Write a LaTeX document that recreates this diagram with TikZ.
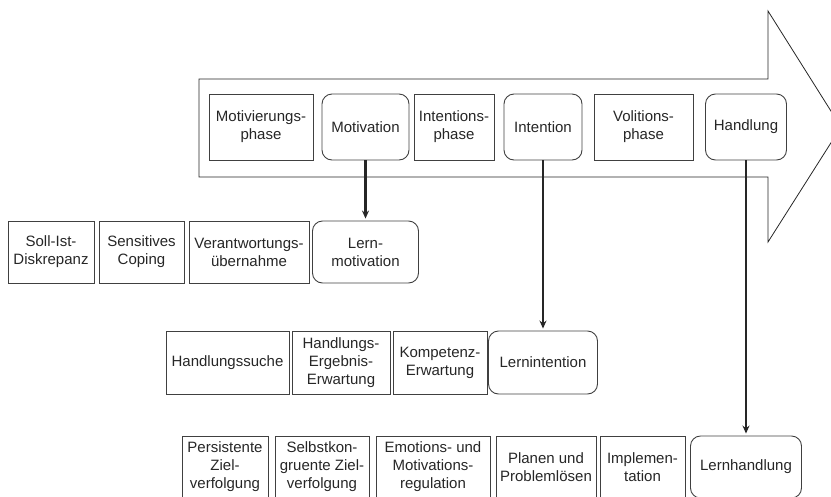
\documentclass[tikz,border=0pt]{standalone}
\usepackage{fontspec}
\setmainfont{Liberation Sans}
\usetikzlibrary{arrows.meta}
\tikzset{
  box/.style={draw=black!75,line width=0.9pt,rectangle,inner sep=0pt,align=center,
    text=black!85,font=\fontsize{15}{18}\selectfont},
  rbox/.style={box,rounded corners=10pt},
  pfeil/.style={draw=black!85,line width=2.5pt,-{Stealth[length=8pt,width=7pt]},shorten >=2pt}
}
\begin{document}
\begin{tikzpicture}[x=1pt,y=-1pt]
  \useasboundingbox (0,0) rectangle (831,496);
  \draw[black!85,line width=0.8pt] (199,79) -- (768,79) -- (768,11) -- (841,127)
    -- (768,242) -- (768,177) -- (199,177) -- cycle;
  \node[box,minimum width=104pt,minimum height=66pt] (mphase) at (261,127) {Motivierungs-\\phase};
  \node[rbox,minimum width=87pt,minimum height=66pt] (motiv) at (365.5,127) {Motivation};
  \node[box,minimum width=80pt,minimum height=66pt] (iphase) at (454,127) {Intentions-\\phase};
  \node[rbox,minimum width=78pt,minimum height=66pt] (intent) at (543,127) {Intention};
  \node[box,minimum width=99pt,minimum height=66pt] (vphase) at (643.5,127) {Volitions-\\phase};
  \node[rbox,minimum width=81pt,minimum height=66pt] (handl) at (746,127) {Handlung};
  \node[box,minimum width=86pt,minimum height=62pt] (soll) at (51,252) {Soll-Ist-\\Diskrepanz};
  \node[box,minimum width=85pt,minimum height=62pt] (coping) at (141.5,252) {Sensitives\\Coping};
  \node[box,minimum width=120pt,minimum height=62pt] (verant) at (249,252) {Verantwortungs-\\übernahme};
  \node[rbox,minimum width=106pt,minimum height=62pt] (lernmot) at (365.5,252) {Lern-\\motivation};
  \node[box,minimum width=123pt,minimum height=63pt] (hsuche) at (227.5,362.5) {Handlungssuche};
  \node[box,minimum width=98pt,minimum height=63pt] (hee) at (341,362.5) {Handlungs-\\Ergebnis-\\Erwartung};
  \node[box,minimum width=94pt,minimum height=63pt] (komp) at (440,362.5) {Kompetenz-\\Erwartung};
  \node[rbox,minimum width=109pt,minimum height=63pt] (lernint) at (543,362.5) {Lernintention};
  \node[box,minimum width=86pt,minimum height=62pt] (pers) at (225,467) {Persistente\\Ziel-\\verfolgung};
  \node[box,minimum width=94pt,minimum height=62pt] (selbst) at (322,467) {Selbstkon-\\gruente Ziel-\\verfolgung};
  \node[box,minimum width=114pt,minimum height=62pt] (emot) at (433,467) {Emotions- und\\Motivations-\\regulation};
  \node[box,minimum width=100pt,minimum height=62pt] (planen) at (546,467) {Planen und\\Problemlösen};
  \node[box,minimum width=85pt,minimum height=62pt] (impl) at (642.5,467) {Implemen-\\tation};
  \node[rbox,minimum width=111pt,minimum height=62pt] (lernh) at (746,467) {Lernhandlung};
  \draw[pfeil] (motiv.south) -- (motiv.south |- lernmot.north);
  \draw[pfeil] (intent.south) -- (intent.south |- lernint.north);
  \draw[pfeil] (handl.south) -- (handl.south |- lernh.north);
\end{tikzpicture}
\end{document}
